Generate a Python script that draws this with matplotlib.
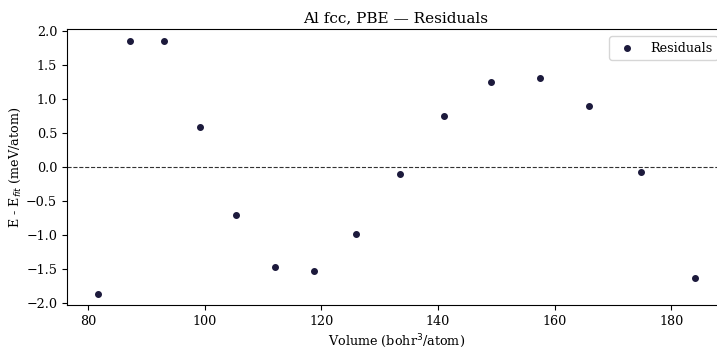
import matplotlib
matplotlib.use('Agg')
import matplotlib.pyplot as plt

plt.rcParams['font.family'] = ['DejaVu Serif']
plt.rcParams['font.size'] = 9.2

volume = [81.7, 87.2, 93.0, 99.2, 105.3, 112.0, 118.8, 125.9, 133.4,
          141.0, 149.1, 157.5, 165.9, 174.8, 184.1]
residual = [-1.87, 1.85, 1.85, 0.58, -0.71, -1.47, -1.53, -0.98, -0.10,
            0.75, 1.25, 1.31, 0.89, -0.08, -1.63]

fig = plt.figure(figsize=(7.17, 3.47), dpi=100)
ax = fig.add_axes([0.0934, 0.121, 0.918, 0.796])

ax.scatter(volume, residual, s=16, color='#1c1a3c', zorder=3, label='Residuals')
ax.axhline(0, color='#333333', ls='--', lw=0.8)

ax.set_xlim(76.4, 189.2)
ax.set_ylim(-2.03, 2.03)
ax.set_xticks([80, 100, 120, 140, 160, 180])
ax.set_yticks([-2.0, -1.5, -1.0, -0.5, 0.0, 0.5, 1.0, 1.5, 2.0])
ax.set_xlabel('Volume (bohr$^3$/atom)', labelpad=3)
ax.set_ylabel('E - E$_{fit}$ (meV/atom)', labelpad=2)
ax.set_title('Al fcc, PBE — Residuals', fontsize=11, pad=5)
ax.legend(loc='upper right', borderaxespad=0.6)

fig.savefig('out.png', dpi=100)
